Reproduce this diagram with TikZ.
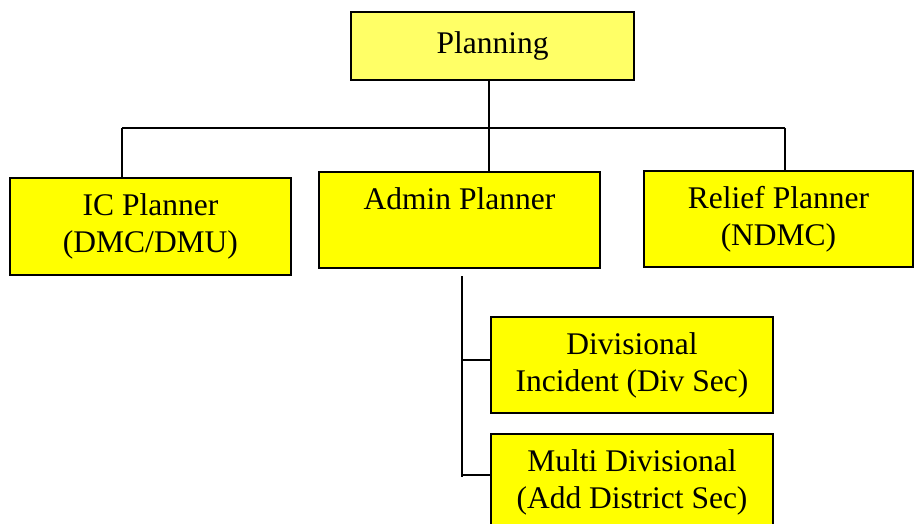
\documentclass[tikz,border=0pt]{standalone}
\usepackage{fontspec}
\setmainfont{Liberation Serif}
\definecolor{planfill}{RGB}{255,255,102}
\definecolor{boxfill}{RGB}{255,255,0}
\begin{document}
\begin{tikzpicture}[x=1pt,y=-1pt,
  box/.style={draw=black, line width=1.6pt, fill=boxfill, align=center, inner sep=0pt,
    minimum width=282pt, minimum height=96pt, font=\fontsize{31.5}{37}\selectfont},
  link/.style={line width=1.8pt}]
\useasboundingbox (0,0) rectangle (914,524);

\node[box, fill=planfill, minimum width=283pt, minimum height=68pt] (plan) at (492.5,46) {Planning};
\node[box, minimum width=281pt, minimum height=97pt] (ic) at (150.5,226.5) {IC Planner\\(DMC/DMU)};
\node[box, minimum width=281pt] (adm) at (459.5,220) {Admin Planner\\[-6pt]\strut};
\node[box, minimum width=269pt] (rel) at (778.5,219) {Relief Planner\\(NDMC)};
\node[box] (div) at (632,365) {Divisional\\Incident (Div Sec)};
\node[box] (mul) at (632,482) {Multi Divisional\\(Add District Sec)};

\coordinate (barL) at (122,128);
\coordinate (barR) at (785,128);
\coordinate (drop) at (489,128);
\coordinate (spineT) at (462,276);
\coordinate (spineB) at (462,477);
\coordinate (brA) at (462,360);
\coordinate (brB) at (462,475);

% top tree
\draw[link] (barL) -- (barR);
\draw[link] (plan.south -| drop) -- (drop) -- (adm.north -| drop);
\draw[link] (barL) -- (barL |- ic.north);
\draw[link] (barR) -- (barR |- rel.north);

% admin branch
\draw[link] (spineT) -- (spineB);
\draw[link] (brA) -- (brA -| div.west);
\draw[link] (brB) -- (brB -| mul.west);
\end{tikzpicture}
\end{document}
